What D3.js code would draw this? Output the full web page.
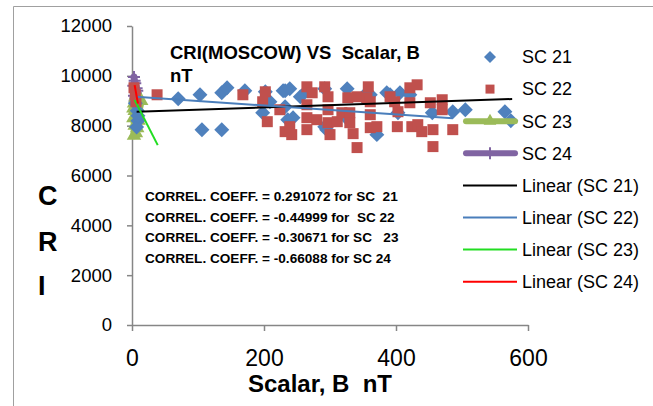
<!DOCTYPE html>
<html>
<head>
<meta charset="utf-8">
<script src="https://cdn.jsdelivr.net/npm/d3@7"></script>
<style>
  body { margin: 0; background: #fff; }
  text { font-family: "Liberation Sans", Arial, sans-serif; white-space: pre; }
</style>
</head>
<body>
<div id="chart"></div>
<script>
// SC 21 (blue diamonds)
const sc21B = [5, 8, 9, 7, 9, 70, 103, 106, 136, 136, 144, 171, 198, 202, 209, 229, 232, 232, 236, 239, 244, 255, 265,
  292, 292, 295, 326, 326, 350, 361, 371, 386, 391, 403, 406, 421, 455, 486, 505, 565, 574];
const sc21Cri = [8900, 8600, 8200, 7950, 8400, 9080, 9240, 7840, 9320, 7840, 9520, 9400, 8520, 9360, 8960, 9400, 9400, 8760,
  8240, 9480, 8320, 9160, 9400, 9480, 7960, 7840, 9480, 8280, 9160, 9240, 7640, 9320, 9240, 8520, 9320, 9240, 8520, 8560,
  8640, 8560, 8200];

// SC 22 (red squares)
const sc22B = [3, 5, 6, 38, 168, 202, 198, 205, 224, 232, 242, 239, 265, 265, 265, 265, 273, 280, 292, 297, 297, 297, 300,
  311, 318, 327, 330, 330, 335, 341, 341, 356, 358, 361, 361, 361, 371, 391, 398, 402, 403, 421, 432, 421, 424, 433, 439,
  452, 456, 456, 470, 470, 486];
const sc22Cri = [9520, 9240, 8960, 9240, 9240, 9360, 8960, 8160, 8640, 7760, 7640, 7960, 9560, 8840, 8320, 7840, 9320, 8240,
  9560, 9160, 8640, 8120, 7640, 8160, 8520, 9120, 8520, 8120, 7680, 9160, 7120, 9120, 9560, 8960, 8440, 7920, 7960, 9160,
  8960, 7960, 8560, 9520, 9640, 8920, 7960, 8040, 7760, 8920, 7840, 7160, 9040, 8640, 7840];

// SC 23 (green, line + triangles)
const sc23B = [2, 6, 3, 8, 4, 10, 5, 3, 7, 14, 9, 4, 6, 2];
const sc23Cri = [8300, 7700, 8900, 7900, 8600, 8200, 9100, 7600, 8800, 9000, 8400, 8000, 9200, 8700];

// SC 24 (purple, line + plus)
const sc24B = [3, 6, 2, 5, 4, 7, 3, 5, 8, 4];
const sc24Cri = [9950, 9300, 9600, 9100, 9800, 9500, 9200, 9700, 9400, 9000];

// linear trend lines, end points
const trendSC21 = [[7, 8560], [576, 9070]];
const trendSC22 = [[6, 9160], [486, 8300]];
const trendSC23 = [[4, 9030], [39, 7220]];
const trendSC24 = [[4, 9630], [9, 8890]];

const xTicks = [0, 200, 400, 600];
const yTicks = [0, 2000, 4000, 6000, 8000, 10000, 12000];

const correlLines = [
  "CORREL. COEFF. = 0.291072 for SC  21",
  "CORREL. COEFF. = -0.44999 for  SC 22",
  "CORREL. COEFF. = -0.30671 for SC   23",
  "CORREL. COEFF. = -0.66088 for SC 24"
];

const legendItems = ["SC 21", "SC 22", "SC 23", "SC 24", "Linear (SC 21)", "Linear (SC 22)", "Linear (SC 23)", "Linear (SC 24)"];

const blue = "#4F81BD", red = "#C0504D", green = "#9BBB59", purple = "#8064A2";
const axisGrey = "#868686";

const svg = d3.select("#chart")
  .append("svg")
  .attr("width", 653)
  .attr("height", 406);

// chart area border (only left and top are inside the picture)
svg.append("path")
  .attr("d", "M13.5,406V6.5H653")
  .attr("fill", "none")
  .attr("stroke", "#a0a0a0")
  .attr("stroke-width", 1);

const x = d3.scaleLinear().domain([0, 600]).range([132, 528]);
const y = d3.scaleLinear().domain([0, 12000]).range([325, 26]);

// axes
const yAxis = svg.append("g")
  .attr("transform", "translate(132,0)")
  .call(d3.axisLeft(y).tickValues(yTicks).tickSize(5).tickSizeOuter(0).tickPadding(15).tickFormat(d3.format("d")));
yAxis.attr("font-family", null).attr("font-size", null);
yAxis.selectAll("text").style("font-size", "18.5px").attr("fill", "#000");

const xAxis = svg.append("g")
  .attr("transform", "translate(0,325)")
  .call(d3.axisBottom(x).tickValues(xTicks).tickSize(6).tickSizeOuter(0).tickPadding(19));
xAxis.attr("font-family", null).attr("font-size", null);
xAxis.selectAll("text").style("font-size", "23px").attr("fill", "#000");

svg.selectAll(".domain, .tick line")
  .attr("stroke", axisGrey)
  .attr("stroke-width", 1.5);

// SC 24 and SC 23 lines with markers
const line = d3.line().x(d => x(d[0])).y(d => y(d[1]));

svg.append("path")
  .datum(d3.zip(sc24B, sc24Cri))
  .attr("d", line)
  .attr("fill", "none")
  .attr("stroke", purple)
  .attr("stroke-width", 7)
  .attr("stroke-linejoin", "round")
  .attr("stroke-linecap", "round");

svg.append("g")
  .selectAll("path")
  .data(d3.zip(sc24B, sc24Cri))
  .join("path")
  .attr("transform", d => `translate(${x(d[0])},${y(d[1])})`)
  .attr("d", "M-6,0H6M0,-6V6")
  .attr("stroke", purple)
  .attr("stroke-width", 2);

svg.append("path")
  .datum(d3.zip(sc23B, sc23Cri))
  .attr("d", line)
  .attr("fill", "none")
  .attr("stroke", green)
  .attr("stroke-width", 7)
  .attr("stroke-linejoin", "round")
  .attr("stroke-linecap", "round");

svg.append("g")
  .selectAll("path")
  .data(d3.zip(sc23B, sc23Cri))
  .join("path")
  .attr("transform", d => `translate(${x(d[0])},${y(d[1])})`)
  .attr("d", d3.symbol(d3.symbolTriangle, 90))
  .attr("fill", green);

// SC 21 diamonds
svg.append("g")
  .selectAll("path")
  .data(d3.zip(sc21B, sc21Cri))
  .join("path")
  .attr("transform", d => `translate(${x(d[0])},${y(d[1])}) rotate(45)`)
  .attr("d", d3.symbol(d3.symbolSquare, 112))
  .attr("fill", blue);

// SC 22 squares
svg.append("g")
  .selectAll("path")
  .data(d3.zip(sc22B, sc22Cri))
  .join("path")
  .attr("transform", d => `translate(${x(d[0])},${y(d[1])})`)
  .attr("d", d3.symbol(d3.symbolSquare, 121))
  .attr("fill", red);

// trend lines
const trends = [
  { pts: trendSC21, colour: "#000000" },
  { pts: trendSC22, colour: "#4A7EBB" },
  { pts: trendSC23, colour: "#22DD22" },
  { pts: trendSC24, colour: "#FF0000" }
];
svg.append("g")
  .selectAll("path")
  .data(trends)
  .join("path")
  .attr("d", d => line(d.pts))
  .attr("stroke", d => d.colour)
  .attr("stroke-width", 2)
  .attr("fill", "none");

// chart title
svg.append("text")
  .attr("x", 170).attr("y", 59)
  .style("font-size", "18.5px").style("font-weight", "bold")
  .text("CRI(MOSCOW) VS  Scalar, B");
svg.append("text")
  .attr("x", 170).attr("y", 82)
  .style("font-size", "18.5px").style("font-weight", "bold")
  .text("nT");

// axis titles
svg.append("text")
  .attr("x", 320).attr("y", 392)
  .attr("text-anchor", "middle")
  .style("font-size", "24px").style("font-weight", "bold")
  .text("Scalar, B  nT");

svg.append("g")
  .selectAll("text")
  .data(["C", "R", "I"])
  .join("text")
  .attr("x", 38)
  .attr("y", (d, i) => [205, 251, 295][i])
  .style("font-size", "27px").style("font-weight", "bold")
  .text(d => d);

// correlation notes
svg.append("g")
  .selectAll("text")
  .data(correlLines)
  .join("text")
  .attr("x", 145)
  .attr("y", (d, i) => 201 + i * 20.7)
  .style("font-size", "13.6px").style("font-weight", "bold")
  .text(d => d);

// legend
const legend = svg.append("g")
  .selectAll("g")
  .data(legendItems)
  .join("g")
  .attr("transform", (d, i) => `translate(0,${57 + i * 32.1})`);

legend.append("text")
  .attr("x", 522)
  .attr("dy", "0.35em")
  .style("font-size", "18px")
  .text(d => d);

legend.each(function (d, i) {
  const g = d3.select(this);
  if (i === 0) {
    g.append("path").attr("transform", "translate(490,0) rotate(45)")
      .attr("d", d3.symbol(d3.symbolSquare, 72)).attr("fill", blue);
  } else if (i === 1) {
    g.append("path").attr("transform", "translate(490,0)")
      .attr("d", d3.symbol(d3.symbolSquare, 81)).attr("fill", red);
  } else if (i === 2 || i === 3) {
    const c = i === 2 ? green : purple;
    g.append("line").attr("x1", 466).attr("x2", 515)
      .attr("stroke", c).attr("stroke-width", 6).attr("stroke-linecap", "round");
    if (i === 2) {
      g.append("path").attr("transform", "translate(490,0)")
        .attr("d", d3.symbol(d3.symbolTriangle, 70)).attr("fill", green);
    } else {
      g.append("path").attr("d", "M490,-6V6").attr("stroke", purple).attr("stroke-width", 2);
    }
  } else {
    g.append("line").attr("x1", 463).attr("x2", 517)
      .attr("stroke", trends[i - 4].colour).attr("stroke-width", 2);
  }
});
</script>
</body>
</html>
